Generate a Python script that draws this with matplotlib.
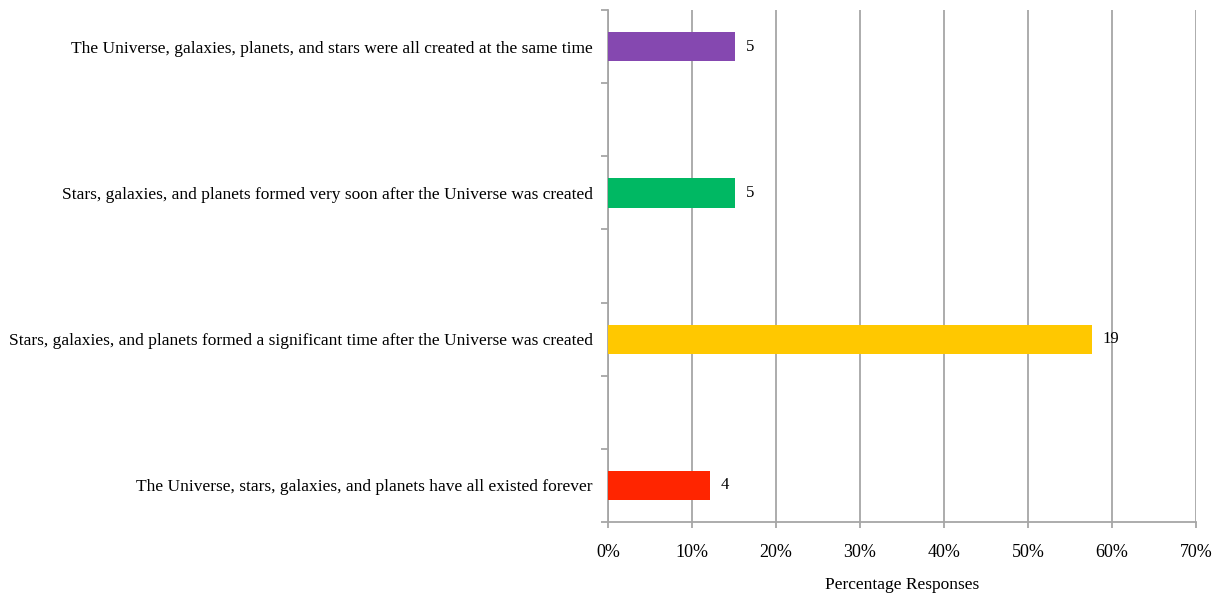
"""
Respostas sobre a formação do Universo, em barras horizontais.
"""

import matplotlib.pyplot as plt
from matplotlib.ticker import FuncFormatter, MultipleLocator

# ── Dados (de cima para baixo) ─────────────────────────────
categorias = [
    "The Universe, galaxies, planets, and stars were all created at the same time",
    "Stars, galaxies, and planets formed very soon after the Universe was created",
    "Stars, galaxies, and planets formed a significant time after the Universe was created",
    "The Universe, stars, galaxies, and planets have all existed forever",
]
contagens = [5, 5, 19, 4]
cores = ["#8548B0", "#00B863", "#FFC800", "#FF2500"]

total = sum(contagens)
percentuais = [c / total * 100 for c in contagens]

plt.rcParams["font.family"] = ["Liberation Serif", "DejaVu Serif"]
cinza = "#A6A6A6"

fig = plt.figure(figsize=(12.14, 5.93), dpi=100)
ax = fig.add_axes([0.5008, 0.1197, 0.4843, 0.8634])

# cada categoria ocupa uma faixa, com uma faixa vazia entre elas
posicoes = [2 * i for i in range(len(categorias))]
ax.barh(posicoes, percentuais, height=0.4, color=cores, zorder=3)

for y, p, c in zip(posicoes, percentuais, contagens):
    ax.annotate(str(c), xy=(p, y), xytext=(8, 0), textcoords="offset points",
                va="center", ha="left", fontsize=12)

ax.set_xlim(0, 70)
ax.set_ylim(-0.5, 2 * len(categorias) - 1.5)
ax.invert_yaxis()

ax.xaxis.set_major_locator(MultipleLocator(10))
ax.xaxis.set_major_formatter(FuncFormatter(lambda x, _: f"{x:.0f}%"))
ax.grid(axis="x", color=cinza, linewidth=1.3, zorder=0)

ax.set_yticks(posicoes)
ax.set_yticklabels(categorias)
ax.set_yticks([i - 0.5 for i in range(2 * len(categorias))], minor=True)
ax.tick_params(axis="y", which="major", length=0, pad=11, labelsize=12.5)
ax.tick_params(axis="y", which="minor", length=5, width=1.3, color=cinza)
ax.tick_params(axis="x", length=4, width=1.3, color=cinza, pad=12, labelsize=13)

for lado in ["top", "right"]:
    ax.spines[lado].set_visible(False)
for lado in ["left", "bottom"]:
    ax.spines[lado].set_color(cinza)
    ax.spines[lado].set_linewidth(1.3)

ax.set_xlabel("Percentage Responses", fontsize=12.5, labelpad=11)

fig.savefig("out.png", dpi=100)
